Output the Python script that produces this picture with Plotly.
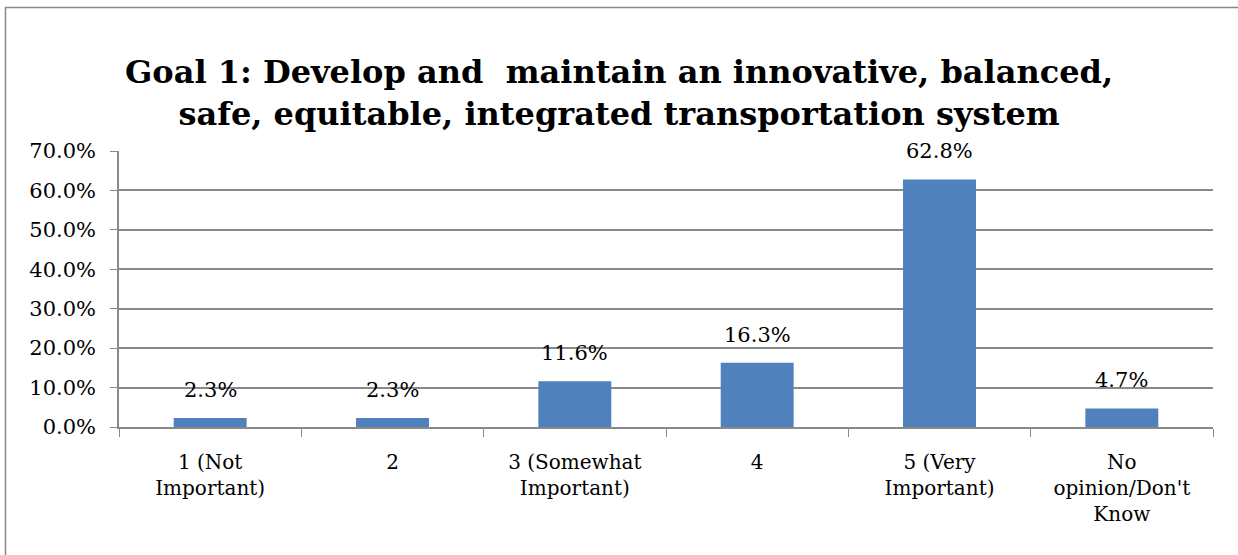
import plotly.graph_objects as go

categories = ["1 (Not<br>Important)", "2", "3 (Somewhat<br>Important)", "4",
              "5 (Very<br>Important)", "No<br>opinion/Don't<br>Know"]
values = [0.023, 0.023, 0.116, 0.163, 0.628, 0.047]
y_ticks = [0, 0.1, 0.2, 0.3, 0.4, 0.5, 0.6, 0.7]
title_text = "<b>Goal 1: Develop and &nbsp;maintain an innovative, balanced,<br>safe, equitable, integrated transportation system</b>"

FONT = "DejaVu Serif"
W, H = 1238, 555
ML, MR, MT, MB = 119, 25, 151, 128
pw, ph = W - ML - MR, H - MT - MB
GRAY = "#898989"

fig = go.Figure(go.Bar(
    x=categories, y=values,
    marker=dict(color="#4F81BD", line=dict(width=0)),
    width=0.4,
    hoverinfo="x+y",
))

for i, v in enumerate(values):
    fig.add_annotation(x=i, y=v, xref="x", yref="y", text=f"{v:.1%}", showarrow=False,
                       yanchor="bottom", yshift=14,
                       font=dict(family=FONT, size=21, color="black"))

def px_to_paper_x(px):
    return (px - ML) / pw

def px_to_paper_y(py):
    return (H - MB - py) / ph

fig.update_layout(
    width=W, height=H,
    margin=dict(l=ML, r=MR, t=MT, b=MB),
    paper_bgcolor="white", plot_bgcolor="white",
    showlegend=False,
    title=dict(text=title_text, x=0.5, xref="container", xanchor="center",
               y=1 - 83 / H, yref="container", yanchor="middle",
               font=dict(family=FONT, size=32, color="black")),
    font=dict(family=FONT, color="black"),
    xaxis=dict(type="category", tickson="boundaries", ticks="outside", ticklen=8,
               tickcolor=GRAY, showline=True, linecolor=GRAY, linewidth=1.5,
               showgrid=False, ticklabelstandoff=16,
               tickfont=dict(family=FONT, size=20, color="black")),
    yaxis=dict(range=[0, 0.7], tickvals=y_ticks, tickformat=".1%", ticks="outside",
               ticklen=7, tickcolor=GRAY, showline=True, linecolor=GRAY,
               linewidth=1.5, showgrid=True, gridcolor=GRAY, gridwidth=1.5,
               zeroline=False, ticklabelstandoff=10,
               tickfont=dict(family=FONT, size=21, color="black")),
    shapes=[dict(type="rect", xref="paper", yref="paper",
                 x0=px_to_paper_x(5.5), x1=px_to_paper_x(1250),
                 y0=px_to_paper_y(570), y1=px_to_paper_y(7.5),
                 line=dict(color=GRAY, width=1.5), fillcolor="rgba(0,0,0,0)",
                 layer="below")],
)

fig.write_html("out.html", config={"displayModeBar": False},
               post_script="document.body.style.margin='0';")
